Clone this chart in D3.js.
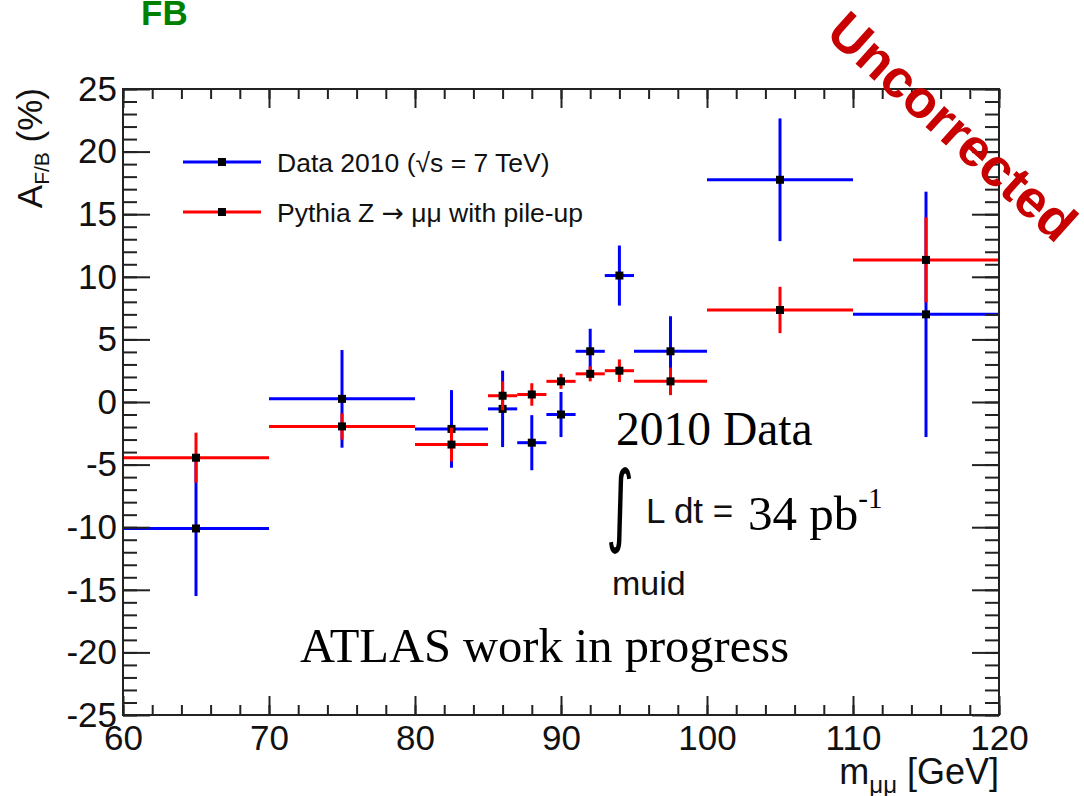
<!DOCTYPE html>
<html>
<head>
<meta charset="utf-8">
<script src="https://cdn.jsdelivr.net/npm/d3@7"></script>
<style>
  html, body { margin: 0; padding: 0; background: #fff; }
  svg { display: block; }
  text { font-family: "Liberation Sans", Arial, sans-serif; }
  .serif { font-family: "Liberation Serif", "Times New Roman", serif; }
</style>
</head>
<body>
<svg id="chart" width="1084" height="796"></svg>
<script>
// ---- data ----
const binLo = [60, 70, 80, 85, 87, 89, 91, 93, 95, 100, 110];
const binHi = [70, 80, 85, 87, 89, 91, 93, 95, 100, 110, 120];
const dataVal = [-10.1, 0.25, -2.15, -0.55, -3.25, -1.0, 4.05, 10.1, 4.05, 17.75, 7.0];
const dataErr = [5.4, 3.9, 3.1, 3.05, 2.2, 1.8, 1.8, 2.4, 2.8, 4.9, 9.8];
const mcVal = [-4.45, -1.95, -3.4, 0.5, 0.6, 1.65, 2.25, 2.5, 1.65, 7.35, 11.35];
const mcErr = [2.0, 1.05, 1.35, 1.15, 0.9, 0.6, 0.6, 0.9, 1.1, 1.85, 3.4];
const xMajorTicks = [60, 70, 80, 90, 100, 110, 120];
const yMajorTicks = [-25, -20, -15, -10, -5, 0, 5, 10, 15, 20, 25];
const seriesNames = [
  ["Data 2010 (\u221As = 7 TeV)"],
  ["Pythia Z ", "\u2192", " \u03bc\u03bc with pile-up"]
];

// ---- layout ----
const svg = d3.select("#chart");
const L = 123, R = 999, T = 89, B = 715;
const x = d3.scaleLinear().domain([60, 120]).range([L, R]);
const y = d3.scaleLinear().domain([-25, 25]).range([B, T]);
const xMinor = d3.range(60, 120.01, 2);
const yMinor = d3.range(-25, 25.01, 1);
const tickColor = "#222";
const fmt = d => String(d);

// ---- series ----
function drawSeries(vals, errs, color) {
  const g = svg.append("g");
  const pts = vals.map((v, i) => ({ lo: binLo[i], hi: binHi[i], c: (binLo[i] + binHi[i]) / 2, v, e: errs[i] }));
  g.selectAll("line.h").data(pts).join("line")
    .attr("x1", d => x(d.lo)).attr("x2", d => x(d.hi))
    .attr("y1", d => y(d.v)).attr("y2", d => y(d.v))
    .attr("stroke", color).attr("stroke-width", 3);
  g.selectAll("line.v").data(pts).join("line")
    .attr("x1", d => x(d.c)).attr("x2", d => x(d.c))
    .attr("y1", d => y(d.v - d.e)).attr("y2", d => y(d.v + d.e))
    .attr("stroke", color).attr("stroke-width", 3);
  g.selectAll("rect").data(pts).join("rect")
    .attr("x", d => x(d.c) - 4).attr("y", d => y(d.v) - 4)
    .attr("width", 8).attr("height", 8).attr("fill", "#000");
}
drawSeries(dataVal, dataErr, "#0000ff");
drawSeries(mcVal, mcErr, "#ff0000");

// ---- axes ----
function styleAxis(g) {
  g.select(".domain").remove();
  g.selectAll(".tick line").attr("stroke", tickColor).attr("stroke-width", 2);
  g.selectAll("text").attr("fill", "#111").style("font-size", "35px")
    .style("font-family", "'Liberation Sans', Arial, sans-serif");
}
// bottom
svg.append("g").attr("transform", `translate(0,${B})`)
  .call(d3.axisBottom(x).tickValues(xMinor).tickSize(-10).tickFormat("")).call(styleAxis);
svg.append("g").attr("transform", `translate(0,${B})`)
  .call(d3.axisBottom(x).tickValues(xMajorTicks).tickSize(-19).tickPadding(10).tickFormat(fmt)).call(styleAxis);
// top
svg.append("g").attr("transform", `translate(0,${T})`)
  .call(d3.axisTop(x).tickValues(xMinor).tickSize(-10).tickFormat("")).call(styleAxis);
svg.append("g").attr("transform", `translate(0,${T})`)
  .call(d3.axisTop(x).tickValues(xMajorTicks).tickSize(-19).tickFormat("")).call(styleAxis);
// left
svg.append("g").attr("transform", `translate(${L},0)`)
  .call(d3.axisLeft(y).tickValues(yMinor).tickSize(-14).tickFormat("")).call(styleAxis);
svg.append("g").attr("transform", `translate(${L},0)`)
  .call(d3.axisLeft(y).tickValues(yMajorTicks).tickSize(-27).tickPadding(6).tickFormat(fmt)).call(styleAxis);
// right
svg.append("g").attr("transform", `translate(${R},0)`)
  .call(d3.axisRight(y).tickValues(yMinor).tickSize(-14).tickFormat("")).call(styleAxis);
svg.append("g").attr("transform", `translate(${R},0)`)
  .call(d3.axisRight(y).tickValues(yMajorTicks).tickSize(-27).tickFormat("")).call(styleAxis);

// frame
svg.append("rect").attr("x", L).attr("y", T).attr("width", R - L).attr("height", B - T)
  .attr("fill", "none").attr("stroke", tickColor).attr("stroke-width", 2);

// ---- axis titles ----
const yt = svg.append("text").attr("transform", `translate(42,${T - 1}) rotate(-90)`)
  .attr("text-anchor", "end").attr("fill", "#111").style("font-size", "35px");
yt.append("tspan").text("A");
yt.append("tspan").attr("dy", 7).style("font-size", "21px").text("F/B");
yt.append("tspan").attr("dy", -7).text(" (%)");

const xt = svg.append("text").attr("x", R).attr("y", 784)
  .attr("text-anchor", "end").attr("fill", "#111").style("font-size", "36px");
xt.append("tspan").text("m");
xt.append("tspan").attr("dy", 9).style("font-size", "24px").text("\u03bc\u03bc");
xt.append("tspan").attr("dy", -9).text(" [GeV]");

// ---- legend ----
const legColors = ["#0000ff", "#ff0000"];
const legY = [162, 212];
seriesNames.forEach((parts, i) => {
  svg.append("line").attr("x1", 183).attr("x2", 261).attr("y1", legY[i]).attr("y2", legY[i])
    .attr("stroke", legColors[i]).attr("stroke-width", 3);
  svg.append("rect").attr("x", 218).attr("y", legY[i] - 4).attr("width", 8).attr("height", 8).attr("fill", "#000");
  const t = svg.append("text").attr("x", 277).attr("y", legY[i] + 10).attr("fill", "#111")
    .style("font-size", "26.5px");
  parts.forEach(p => {
    const s = t.append("tspan").text(p);
    if (p === "\u2192") s.style("font-family", "'DejaVu Sans', sans-serif");
  });
});

// ---- annotations ----
svg.append("text").attr("x", 141).attr("y", 25).attr("fill", "#008000")
  .style("font-size", "35px").style("font-weight", "bold").text("FB");

svg.append("text").attr("transform", "translate(953,126) rotate(42)")
  .attr("text-anchor", "middle").attr("dy", "0.36em").attr("fill", "#c80000")
  .style("font-size", "53px").style("font-weight", "bold").text("Uncorrected");

svg.append("text").attr("class", "serif").attr("x", 616).attr("y", 445).attr("fill", "#000")
  .style("font-size", "47.5px").text("2010 Data");

svg.append("text").attr("transform", "translate(606,535) scale(0.9,1.5)").attr("fill", "#000")
  .style("font-size", "60px").style("font-family", "'DejaVu Sans', sans-serif").text("\u222b");

svg.append("text").attr("x", 646).attr("y", 523).attr("fill", "#111")
  .style("font-size", "35px").text("L dt =");
const lum = svg.append("text").attr("class", "serif").attr("x", 748).attr("y", 530).attr("fill", "#000")
  .style("font-size", "49px");
lum.append("tspan").text("34 pb");
lum.append("tspan").attr("dy", -22).style("font-size", "29px").text("-1");

svg.append("text").attr("x", 612).attr("y", 595).attr("fill", "#111")
  .style("font-size", "34px").text("muid");

svg.append("text").attr("class", "serif").attr("x", 300).attr("y", 662).attr("fill", "#000")
  .style("font-size", "48.5px").text("ATLAS work in progress");
</script>
</body>
</html>
